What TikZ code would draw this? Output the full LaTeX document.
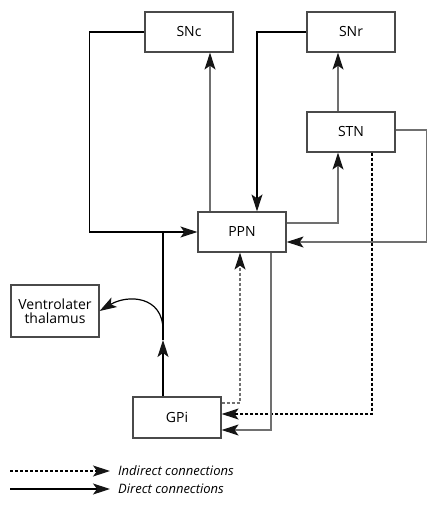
\documentclass[tikz,border=0pt]{standalone}
\usepackage{fontspec}
\setmainfont{Open Sans}
\usetikzlibrary{arrows.meta}
\definecolor{lgray}{HTML}{707070}
\definecolor{bgray}{HTML}{4A4A4A}
\definecolor{tipc}{HTML}{151515}
\begin{document}
\begin{tikzpicture}[x=1pt,y=-1pt,
  box/.style={draw=bgray,line width=1.2pt,minimum width=88pt,minimum height=40pt,inner sep=0pt,font=\fontsize{14}{15.5}\selectfont,align=center},
  conn/.style={line width=1.2pt,-{Stealth[length=17pt,width=11pt,inset=4pt,color=tipc]}},
  plain/.style={line width=1.2pt},
  gr/.style={draw=lgray},
  dsh/.style={dash pattern=on 3pt off 2pt}]
\useasboundingbox (0,0) rectangle (439,505);
\node[box] (snc) at (189,32) {SNc};
\node[box] (snr) at (351,32) {SNr};
\node[box] (stn) at (351,132) {STN};
\node[box] (ppn) at (242,232) {PPN};
\node[box,minimum height=52pt,text width=80pt] (thal) at (55,311) {Ventrolater\\[-1pt]thalamus};
\node[box,minimum height=41pt] (gpi) at (177,417.5) {GPi};
% SNc -> PPN
\draw[conn] (snc.west) -- ++(-55,0) |- (ppn.west);
% GPi -> up (joins) and to thalamus
\coordinate (gtop) at ([xshift=-14pt]gpi.north);
\coordinate (garr) at (163,340);
\coordinate (gcur) at (163,330);
\coordinate (gjoin) at (163,232);
\draw[conn] (gtop) -- (garr);
\draw[plain] (garr) -- (gjoin);
\draw[conn] (gcur) .. controls (163,296) and (128,294) .. (thal.east);
% PPN -> SNc
\draw[conn,gr] ([xshift=-32pt]ppn.north) -- ([xshift=21pt]snc.south);
% SNr -> PPN
\draw[conn] (snr.west) -| ([xshift=15pt]ppn.north);
% STN -> SNr
\draw[conn,gr] ([xshift=-13pt]stn.north) -- ([xshift=-13pt]snr.south);
% PPN -> STN
\draw[conn,gr] ([yshift=9pt]ppn.east) -| ([xshift=-13pt]stn.south);
% STN -> PPN
\draw[conn,gr] ([yshift=2pt]stn.east) -- ++(31,0) |- ([yshift=-10pt]ppn.east);
% STN -> GPi dashed
\draw[conn,dsh] ([xshift=21pt]stn.south) |- ([yshift=3.5pt]gpi.east);
% GPi -> PPN dashed
\draw[conn,gr,dsh] ([yshift=14.5pt]gpi.east) -| ([xshift=-2pt]ppn.south);
% PPN -> GPi
\draw[conn,gr] ([xshift=29pt]ppn.south) |- ([yshift=-12.5pt]gpi.east);
% legend
\coordinate (l1a) at (10,471); \coordinate (l1b) at (110,471);
\coordinate (l2a) at (10,489); \coordinate (l2b) at (110,489);
\draw[conn,dsh] (l1a) -- (l1b);
\draw[conn] (l2a) -- (l2b);
\node[anchor=west,inner sep=0pt,font=\fontsize{13}{14}\selectfont\itshape] (t1) at (118,471) {Indirect connections};
\node[anchor=west,inner sep=0pt,font=\fontsize{13}{14}\selectfont\itshape] (t2) at (118,489) {Direct connections};
\end{tikzpicture}
\end{document}
